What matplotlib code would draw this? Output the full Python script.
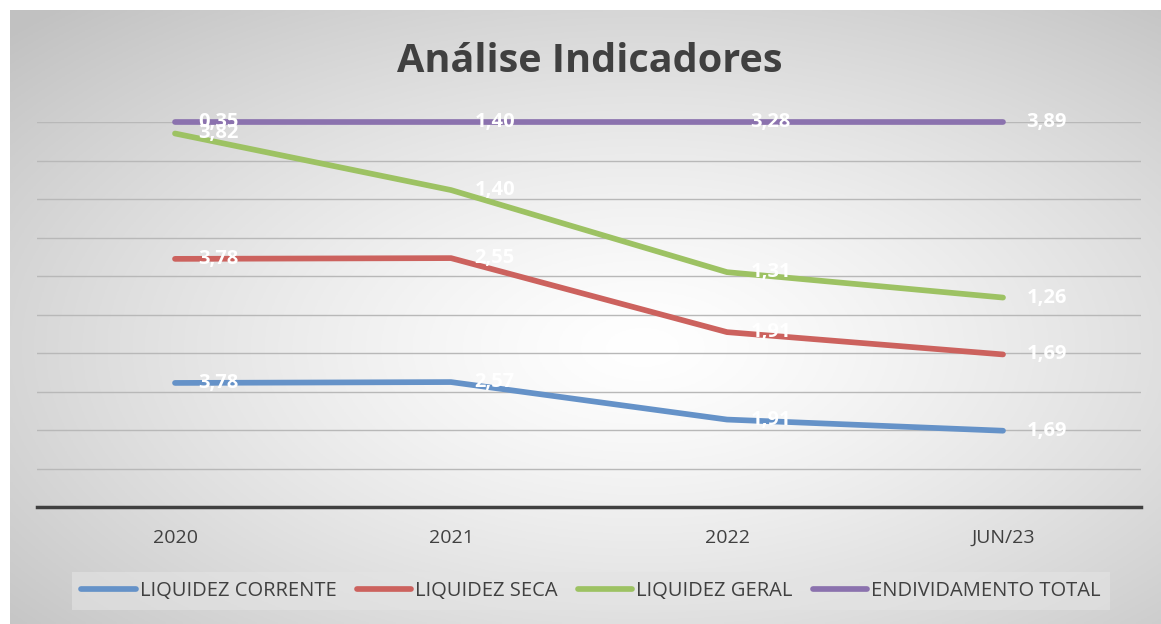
import matplotlib
matplotlib.use("Agg")
import matplotlib.pyplot as plt
import numpy as np

# dados (gráfico de linhas 100% empilhadas)
periodos = ["2020", "2021", "2022", "JUN/23"]
liquidez_corrente = [3.78, 2.57, 1.91, 1.69]
liquidez_seca = [3.78, 2.55, 1.91, 1.69]
liquidez_geral = [3.82, 1.40, 1.31, 1.26]
endividamento_total = [0.35, 1.40, 3.28, 3.89]

series = ["LIQUIDEZ CORRENTE", "LIQUIDEZ SECA", "LIQUIDEZ GERAL", "ENDIVIDAMENTO TOTAL"]
cores = ["#6592c8", "#cc625e", "#9dc263", "#8b72ae"]

plt.rcParams["font.family"] = ["Open Sans", "DejaVu Sans"]

W, H = 1161, 624
fig = plt.figure(figsize=(W / 100, H / 100), dpi=100)

# fundo com gradiente radial
bg = fig.add_axes((10 / W, 0, 1 - 10 / W, 1 - 10 / H))
gx, gy = np.meshgrid(np.linspace(0, 1, 400), np.linspace(0, 1, 220))
r = np.sqrt(((gx - 0.55) / 0.75) ** 2 + ((gy - 0.55) / 0.75) ** 2)
r = np.clip(r, 0, 1)
shade = 1.0 - 0.24 * r ** 1.3
bg.imshow(np.dstack([shade] * 3), extent=(0, 1, 0, 1), aspect="auto", origin="upper")
bg.axis("off")

ax = fig.add_axes((37 / W, 1 - 507 / H, (1141 - 37) / W, (507 - 122) / H))
ax.set_facecolor("none")

valores = np.array([liquidez_corrente, liquidez_seca, liquidez_geral, endividamento_total])
acumulado = np.cumsum(valores, axis=0) / valores.sum(axis=0)
x = np.arange(len(periodos))

for i, (nome, cor) in enumerate(zip(series, cores)):
    ax.plot(x, acumulado[i], color=cor, lw=4.1, solid_capstyle="round",
            solid_joinstyle="round", label=nome, clip_on=False, zorder=3)

for i in range(len(series)):
    for j in range(len(periodos)):
        ax.annotate(f"{valores[i, j]:.2f}".replace(".", ","), (x[j], acumulado[i, j]),
                    xytext=(17, 0), textcoords="offset points", va="center", ha="left",
                    color="white", fontsize=14.5, fontweight="bold", zorder=5,
                    annotation_clip=False)

ax.set_xlim(-0.5, 3.5)
ax.set_ylim(0, 1)
ax.set_yticks(np.arange(0.1, 1.01, 0.1))
ax.set_yticklabels([])
ax.tick_params(axis="y", length=0)
ax.grid(axis="y", color="#b8b8b8", lw=1)
ax.set_xticks(x)
ax.set_xticklabels(periodos, color="#404040", fontsize=14)
ax.tick_params(axis="x", length=0, pad=16)
for s in ["top", "left", "right"]:
    ax.spines[s].set_visible(False)
ax.spines["bottom"].set_color("#404040")
ax.spines["bottom"].set_linewidth(2.5)

fig.text(590 / W, 1 - 62 / H, "Análise Indicadores", ha="center", va="center",
         fontsize=28.5, fontweight="bold", color="#404040")

leg = fig.legend(loc="center", bbox_to_anchor=(591 / W, 1 - 591 / H), ncol=4,
                 fontsize=14.5, handlelength=2.7, handletextpad=0.2, columnspacing=1.0,
                 frameon=True, fancybox=False, borderpad=0.45)
leg.get_frame().set_facecolor("#e4e4e4")
leg.get_frame().set_edgecolor("none")
leg.get_frame().set_alpha(0.6)
for t in leg.get_texts():
    t.set_color("#404040")

fig.savefig("out.png", dpi=100)
